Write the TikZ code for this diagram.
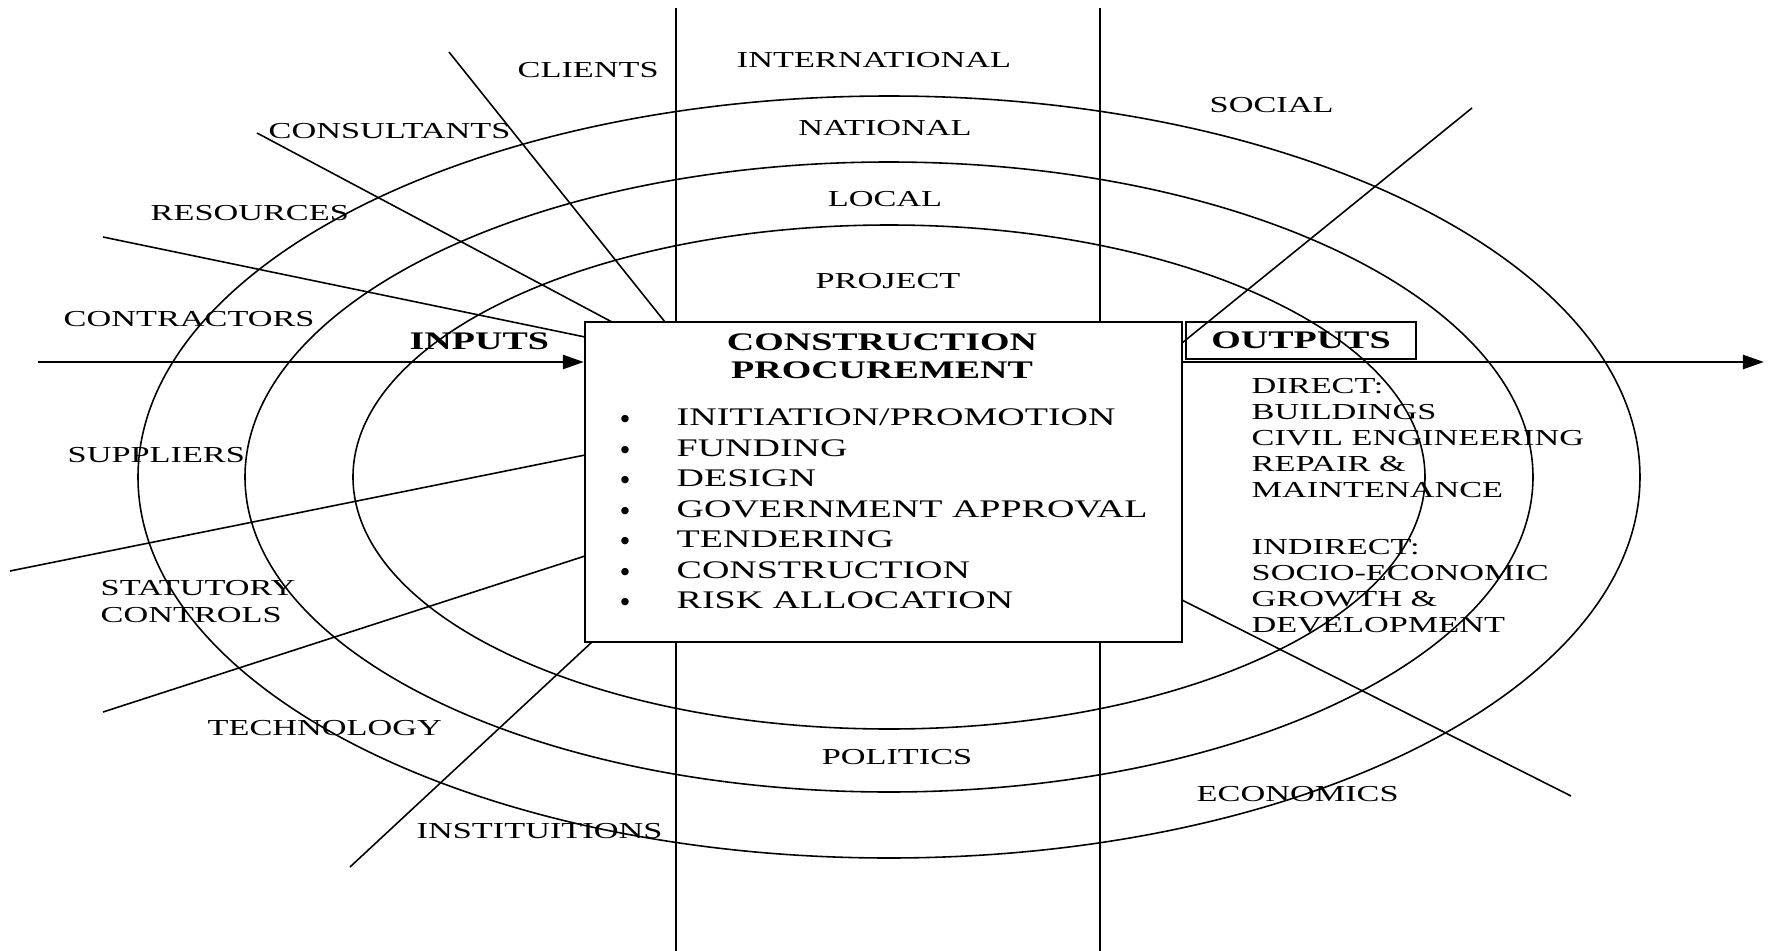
\documentclass[tikz,border=0pt]{standalone}
\usepackage{fontspec}
\setmainfont{Liberation Serif}[FakeStretch=1.5]
\newfontfamily\dotfont{DejaVu Sans}
\usetikzlibrary{arrows.meta}

\tikzset{
    lbl/.style={anchor=base west, inner sep=0pt, font=\fontsize{6.5}{7.4}\selectfont},
    mid/.style={lbl, anchor=base},
    entry/.style={anchor=base west, inner sep=0pt, font=\fontsize{7.2}{8.7}\selectfont},
    dot/.style={anchor=base, inner sep=0pt, font=\dotfont\fontsize{7.2}{8.7}\selectfont},
    spoke/.style={line width=0.45pt},
    flow/.style={line width=0.7pt, -{Triangle[length=6pt, width=4pt]}}
}

\begin{document}
\begin{tikzpicture}[x=0.01cm, y=-0.01cm]
    \useasboundingbox (0,0) rectangle (1771,951);

    \coordinate (O) at (889,477);
    \foreach \rx/\ry in {751/381, 644/315, 536/252} {
        \draw[spoke] (O) ellipse [x radius=\rx, y radius=\ry];
    }

    \coordinate (V1) at (676,8);   \coordinate (V2) at (676,951);
    \coordinate (W1) at (1100,8);  \coordinate (W2) at (1100,951);
    \draw[line width=0.55pt] (V1)--(V2) (W1)--(W2);

    \coordinate (CL1) at (449,52);   \coordinate (CL2) at (665,322);
    \coordinate (CO1) at (257,133);  \coordinate (CO2) at (612,322);
    \coordinate (RE1) at (103,237);  \coordinate (RE2) at (585,337);
    \coordinate (SU1) at (10,571);   \coordinate (SU2) at (585,455);
    \coordinate (ST1) at (103,712);  \coordinate (ST2) at (585,556);
    \coordinate (IN1) at (350,867);  \coordinate (IN2) at (592,642);
    \coordinate (SO1) at (1472,108); \coordinate (SO2) at (1182,343);
    \coordinate (EC1) at (1182,600); \coordinate (EC2) at (1571,796);
    \draw[spoke] (CL1)--(CL2) (CO1)--(CO2) (RE1)--(RE2) (SU1)--(SU2)
                 (ST1)--(ST2) (IN1)--(IN2) (SO1)--(SO2) (EC1)--(EC2);

    \node[draw, fill=white, line width=0.55pt, inner sep=0pt,
          minimum width=5.97cm, minimum height=3.2cm] (box) at (883.5,482) {};
    \node[draw, line width=0.55pt, inner sep=0pt, minimum width=2.3cm, minimum height=0.37cm,
          font=\bfseries\fontsize{7.2}{8.7}\selectfont] (outputs) at (1301,340.5) {OUTPUTS};

    \coordinate (src) at (38,362);
    \coordinate (sink) at (1764,362);
    \draw[flow] (src) -- (src -| box.west);
    \draw[flow] (box.east |- sink) -- (sink);

    \node[align=center, inner sep=0pt, font=\bfseries\fontsize{7.2}{8}\selectfont] (title) at (882,356)
        {CONSTRUCTION\\PROCUREMENT};
    \foreach \t [count=\i from 0] in {INITIATION/PROMOTION, FUNDING, DESIGN,
            GOVERNMENT APPROVAL, TENDERING, CONSTRUCTION, RISK ALLOCATION} {
        \node[entry] (e\i) at (676,{425.8+30.5*\i}) {\t};
        \node[dot] (d\i) at (625,{428.5+30.5*\i}) {\textbullet};
    }

    \node[lbl] (clients) at (517,77) {CLIENTS};
    \node[lbl] (consult) at (268,138) {CONSULTANTS};
    \node[lbl] (resources) at (150,220) {RESOURCES};
    \node[lbl] (contract) at (63,326) {CONTRACTORS};
    \node[entry, font=\bfseries\fontsize{7.2}{8.7}\selectfont] (inputs) at (409,349) {INPUTS};
    \node[lbl] (suppliers) at (67,462) {SUPPLIERS};
    \node[lbl, anchor=north west, align=left, font=\fontsize{6.5}{7.7}\selectfont] (statutory) at (100,579.5)
        {STATUTORY\\CONTROLS};
    \node[lbl] (tech) at (207,735) {TECHNOLOGY};
    \node[lbl] (inst) at (416,838) {INSTITUITIONS};

    \node[mid] (intl) at (874,67) {INTERNATIONAL};
    \node[mid] (natl) at (885,135) {NATIONAL};
    \node[mid] (local) at (885,206) {LOCAL};
    \node[mid] (project) at (888,288) {PROJECT};
    \node[mid] (politics) at (897,764) {POLITICS};

    \node[lbl] (social) at (1209,112) {SOCIAL};
    \node[lbl] (economics) at (1196,801) {ECONOMICS};
    \node[lbl, anchor=north west, align=left] (direct) at (1251,378)
        {DIRECT:\\BUILDINGS\\CIVIL ENGINEERING\\REPAIR \&\\MAINTENANCE};
    \node[lbl, anchor=north west, align=left] (indirect) at (1251,538.5)
        {INDIRECT:\\SOCIO-ECONOMIC\\GROWTH \&\\DEVELOPMENT};
\end{tikzpicture}
\end{document}
